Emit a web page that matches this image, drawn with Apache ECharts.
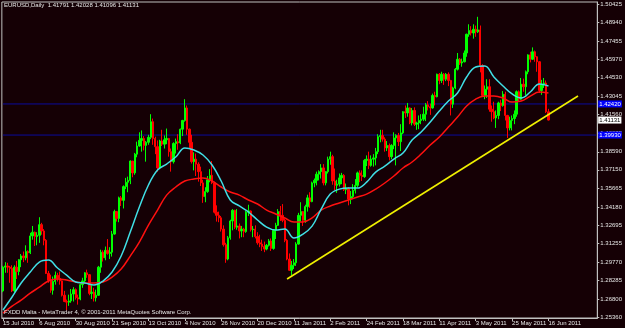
<!DOCTYPE html>
<html>
<head>
<meta charset="utf-8">
<title>EURUSD Daily</title>
<script src="https://cdn.jsdelivr.net/npm/echarts@6/dist/echarts.min.js"></script>
<style>
  html, body { margin: 0; padding: 0; background: #150005; }
  #chart { width: 625px; height: 328px; }
</style>
</head>
<body>
<div id="chart"></div>
<script>
// EURUSD daily bars, 15 Jul 2010 .. 16 Jun 2011 (one per trading day)
var opens = [
  1.2745,1.2935,1.2945,1.2935,1.2925,1.2745,1.2935,1.2900,1.2995,1.3025,
  1.3010,1.3060,1.3050,1.3185,1.3215,1.3180,1.3190,1.3275,1.3225,1.3150,
  1.2885,1.2830,1.2750,1.2820,1.2870,1.2845,1.2825,1.2710,1.2660,1.2655,
  1.2665,1.2720,1.2755,1.2690,1.2680,1.2795,1.2825,1.2890,1.2875,1.2725,
  1.2735,1.2690,1.2710,1.2935,1.3055,1.3010,1.3070,1.3045,1.3055,1.3200,
  1.3380,1.3325,1.3490,1.3470,1.3580,1.3615,1.3630,1.3785,1.3690,1.3840,
  1.3905,1.3950,1.3965,1.3910,1.3935,1.3975,1.4100,1.3965,1.3900,1.3730,
  1.3945,1.3920,1.3955,1.3965,1.3860,1.3780,1.3925,1.3940,1.3930,1.4040,
  1.4110,1.4210,1.4040,1.3935,1.3780,1.3800,1.3760,1.3700,1.3610,1.3500,
  1.3540,1.3635,1.3670,1.3610,1.3375,1.3350,1.3330,1.3240,1.3115,1.3000,
  1.3170,1.3305,1.3390,1.3255,1.3265,1.3225,1.3240,1.3220,1.3375,1.3385,
  1.3235,1.3240,1.3180,1.3130,1.3120,1.3100,1.3080,1.3110,1.3145,1.3085,
  1.3230,1.3270,1.3380,1.3350,1.3310,1.3150,1.3000,1.2910,1.2950,1.2970,
  1.3120,1.3350,1.3380,1.3310,1.3420,1.3490,1.3460,1.3610,1.3630,1.3680,
  1.3700,1.3730,1.3610,1.3700,1.3800,1.3820,1.3625,1.3590,1.3600,1.3650,
  1.3670,1.3555,1.3565,1.3480,1.3500,1.3550,1.3590,1.3690,1.3670,1.3660,
  1.3790,1.3800,1.3750,1.3800,1.3810,1.3860,1.3980,1.3990,1.3960,1.3890,
  1.3910,1.3820,1.3910,1.3970,1.3990,1.3940,1.4010,1.4180,1.4170,1.4210,
  1.4090,1.4190,1.4080,1.4090,1.4110,1.4120,1.4160,1.4235,1.4220,1.4210,
  1.4310,1.4300,1.4480,1.4430,1.4480,1.4440,1.4480,1.4430,1.4240,1.4370,
  1.4520,1.4600,1.4570,1.4580,1.4650,1.4800,1.4830,1.4810,1.4840,1.4820,
  1.4835,1.4550,1.4310,1.4360,1.4380,1.4200,1.4180,1.4130,1.4150,1.4250,
  1.4230,1.4320,1.4150,1.4050,1.4110,1.4125,1.4160,1.4340,1.4280,1.4400,
  1.4380,1.4500,1.4635,1.4600,1.4660,1.4620,1.4580,1.4350,1.4400,1.4410,
  1.41791
];
var highs = [
  1.2945,1.2975,1.2970,1.2945,1.2950,1.2950,1.2985,1.3000,1.3040,1.3060,
  1.3110,1.3070,1.3210,1.3265,1.3220,1.3215,1.3335,1.3290,1.3240,1.3160,
  1.2905,1.2875,1.2860,1.2900,1.2890,1.2900,1.2830,1.2745,1.2675,1.2715,
  1.2760,1.2775,1.2765,1.2715,1.2805,1.2850,1.2895,1.2915,1.2880,1.2790,
  1.2770,1.2755,1.2945,1.3075,1.3070,1.3100,1.3160,1.3095,1.3225,1.3395,
  1.3385,1.3500,1.3505,1.3590,1.3650,1.3660,1.3790,1.3785,1.3850,1.3940,
  1.4015,1.4030,1.3985,1.3945,1.3995,1.4160,1.4125,1.3980,1.3950,1.3955,
  1.4035,1.3990,1.4045,1.3970,1.3885,1.3935,1.3965,1.4000,1.4045,1.4115,
  1.4280,1.4230,1.4045,1.3995,1.3855,1.3845,1.3775,1.3740,1.3635,1.3575,
  1.3665,1.3720,1.3785,1.3620,1.3430,1.3380,1.3345,1.3270,1.3130,1.3185,
  1.3315,1.3400,1.3395,1.3400,1.3285,1.3265,1.3250,1.3385,1.3435,1.3390,
  1.3265,1.3270,1.3215,1.3195,1.3155,1.3140,1.3120,1.3160,1.3165,1.3240,
  1.3290,1.3400,1.3425,1.3440,1.3325,1.3160,1.3045,1.2985,1.3000,1.3135,
  1.3370,1.3455,1.3385,1.3435,1.3515,1.3535,1.3620,1.3645,1.3700,1.3710,
  1.3760,1.3760,1.3705,1.3820,1.3860,1.3835,1.3725,1.3635,1.3685,1.3690,
  1.3680,1.3605,1.3575,1.3545,1.3600,1.3640,1.3700,1.3710,1.3710,1.3800,
  1.3830,1.3860,1.3830,1.3840,1.3890,1.4000,1.4035,1.4035,1.3975,1.3945,
  1.3925,1.3920,1.4015,1.4000,1.4010,1.4080,1.4185,1.4230,1.4250,1.4215,
  1.4210,1.4215,1.4100,1.4150,1.4160,1.4220,1.4250,1.4265,1.4245,1.4325,
  1.4340,1.4485,1.4490,1.4500,1.4490,1.4490,1.4495,1.4435,1.4380,1.4530,
  1.4650,1.4610,1.4605,1.4670,1.4805,1.4880,1.4865,1.4880,1.4870,1.4940,
  1.4870,1.4560,1.4390,1.4440,1.4440,1.4230,1.4260,1.4190,1.4260,1.4275,
  1.4345,1.4340,1.4155,1.4140,1.4150,1.4190,1.4350,1.4350,1.4450,1.4445,
  1.4510,1.4640,1.4660,1.4695,1.4670,1.4625,1.4585,1.4435,1.4450,1.4430,
  1.42028
];
var lows = [
  1.2735,1.2890,1.2890,1.2810,1.2735,1.2735,1.2840,1.2870,1.2935,1.2975,
  1.2990,1.2970,1.3040,1.3155,1.3105,1.3110,1.3130,1.3195,1.3110,1.2880,
  1.2810,1.2730,1.2715,1.2795,1.2820,1.2795,1.2700,1.2655,1.2590,1.2625,
  1.2650,1.2660,1.2675,1.2635,1.2670,1.2770,1.2810,1.2850,1.2710,1.2680,
  1.2660,1.2660,1.2705,1.2890,1.2980,1.2990,1.3035,1.3000,1.3020,1.3195,
  1.3300,1.3295,1.3425,1.3405,1.3560,1.3535,1.3600,1.3655,1.3675,1.3815,
  1.3900,1.3860,1.3870,1.3780,1.3915,1.3960,1.3915,1.3840,1.3700,1.3720,
  1.3905,1.3885,1.3920,1.3820,1.3700,1.3765,1.3845,1.3875,1.3920,1.3985,
  1.4100,1.3995,1.3890,1.3765,1.3710,1.3665,1.3620,1.3585,1.3450,1.3455,
  1.3530,1.3615,1.3600,1.3365,1.3300,1.3295,1.3220,1.3100,1.2970,1.2990,
  1.3155,1.3230,1.3240,1.3235,1.3165,1.3175,1.3175,1.3210,1.3345,1.3220,
  1.3175,1.3165,1.3115,1.3095,1.3065,1.3055,1.3070,1.3100,1.3065,1.3075,
  1.3160,1.3265,1.3305,1.3295,1.3135,1.2990,1.2905,1.2870,1.2920,1.2945,
  1.3115,1.3300,1.3265,1.3290,1.3380,1.3410,1.3455,1.3575,1.3590,1.3630,
  1.3645,1.3590,1.3590,1.3685,1.3755,1.3595,1.3550,1.3530,1.3580,1.3600,
  1.3545,1.3520,1.3430,1.3440,1.3480,1.3525,1.3575,1.3615,1.3625,1.3650,
  1.3745,1.3720,1.3740,1.3740,1.3750,1.3840,1.3935,1.3940,1.3860,1.3865,
  1.3790,1.3800,1.3880,1.3750,1.3905,1.3865,1.4000,1.4130,1.4140,1.4080,
  1.4070,1.4065,1.4035,1.4040,1.4080,1.4105,1.4105,1.4190,1.4155,1.4205,
  1.4230,1.4295,1.4400,1.4410,1.4395,1.4425,1.4385,1.4150,1.4210,1.4360,
  1.4510,1.4555,1.4540,1.4575,1.4620,1.4780,1.4790,1.4765,1.4780,1.4810,
  1.4495,1.4300,1.4280,1.4290,1.4180,1.4100,1.4120,1.4050,1.4120,1.4185,
  1.4220,1.4110,1.3970,1.4030,1.4030,1.4080,1.4140,1.4260,1.4275,1.4340,
  1.4310,1.4480,1.4575,1.4595,1.4580,1.4500,1.4330,1.4315,1.4370,1.4170,
  1.41096
];
var closes = [
  1.2935,1.2945,1.2935,1.2925,1.2745,1.2935,1.2900,1.2995,1.3025,1.3010,
  1.3060,1.3050,1.3185,1.3215,1.3180,1.3190,1.3275,1.3225,1.3150,1.2885,
  1.2830,1.2750,1.2820,1.2870,1.2845,1.2825,1.2710,1.2660,1.2655,1.2665,
  1.2720,1.2755,1.2690,1.2680,1.2795,1.2825,1.2890,1.2875,1.2725,1.2735,
  1.2690,1.2710,1.2935,1.3055,1.3010,1.3070,1.3045,1.3055,1.3200,1.3380,
  1.3325,1.3490,1.3470,1.3580,1.3615,1.3630,1.3785,1.3690,1.3840,1.3905,
  1.3950,1.3965,1.3910,1.3935,1.3975,1.4100,1.3965,1.3900,1.3730,1.3945,
  1.3920,1.3955,1.3965,1.3860,1.3780,1.3925,1.3940,1.3930,1.4040,1.4110,
  1.4210,1.4040,1.3935,1.3780,1.3800,1.3760,1.3700,1.3610,1.3500,1.3540,
  1.3635,1.3670,1.3610,1.3375,1.3350,1.3330,1.3240,1.3115,1.3000,1.3170,
  1.3305,1.3390,1.3255,1.3265,1.3225,1.3240,1.3220,1.3375,1.3385,1.3235,
  1.3240,1.3180,1.3130,1.3120,1.3100,1.3080,1.3110,1.3145,1.3085,1.3230,
  1.3270,1.3380,1.3350,1.3310,1.3150,1.3000,1.2910,1.2950,1.2970,1.3120,
  1.3350,1.3380,1.3310,1.3420,1.3490,1.3460,1.3610,1.3630,1.3680,1.3700,
  1.3730,1.3610,1.3700,1.3800,1.3820,1.3625,1.3590,1.3600,1.3650,1.3670,
  1.3555,1.3565,1.3480,1.3500,1.3550,1.3590,1.3690,1.3670,1.3660,1.3790,
  1.3800,1.3750,1.3800,1.3810,1.3860,1.3980,1.3990,1.3960,1.3890,1.3910,
  1.3820,1.3910,1.3970,1.3990,1.3940,1.4010,1.4180,1.4170,1.4210,1.4090,
  1.4190,1.4080,1.4090,1.4110,1.4120,1.4160,1.4235,1.4220,1.4210,1.4310,
  1.4300,1.4480,1.4430,1.4480,1.4440,1.4480,1.4430,1.4240,1.4370,1.4520,
  1.4600,1.4570,1.4580,1.4650,1.4800,1.4830,1.4810,1.4840,1.4820,1.4835,
  1.4550,1.4310,1.4360,1.4380,1.4200,1.4180,1.4130,1.4150,1.4250,1.4230,
  1.4320,1.4150,1.4050,1.4110,1.4125,1.4160,1.4340,1.4280,1.4400,1.4380,
  1.4500,1.4635,1.4600,1.4660,1.4620,1.4580,1.4350,1.4400,1.4410,1.4180,
  1.41131
];

// moving averages, one value every maStep bars
var maStep = 4;
var fastMa = [
  1.2592,1.2696,1.2808,1.2896,1.2976,1.2992,1.2928,1.2872,1.2816,1.2808,
  1.2792,1.2824,1.2896,1.3024,1.3216,1.3416,1.3593,1.3713,1.3761,1.3817,
  1.3889,1.3873,1.3833,1.3753,1.3625,1.3473,1.3425,1.3377,1.3313,1.3256,
  1.3232,1.3240,1.3168,1.3200,1.3264,1.3400,1.3520,1.3560,1.3568,1.3568,
  1.3616,1.3696,1.3744,1.3801,1.3849,1.3953,1.4017,1.4097,1.4185,1.4265,
  1.4330,1.4458,1.4538,1.4546,1.4458,1.4386,1.4322,1.4290,1.4338,1.4402,
  1.4386
];
var slowMa = [
  1.2567,1.2623,1.2671,1.2727,1.2775,1.2824,1.2840,1.2832,1.2816,1.2808,
  1.2808,1.2816,1.2856,1.2920,1.3024,1.3136,1.3272,1.3392,1.3512,1.3577,
  1.3625,1.3641,1.3649,1.3625,1.3577,1.3537,1.3512,1.3473,1.3441,1.3392,
  1.3361,1.3329,1.3297,1.3297,1.3329,1.3392,1.3425,1.3449,1.3473,1.3497,
  1.3520,1.3560,1.3609,1.3665,1.3729,1.3777,1.3841,1.3913,1.3977,1.4057,
  1.4137,1.4225,1.4281,1.4305,1.4305,1.4290,1.4257,1.4265,1.4305,1.4338,
  1.4330
];

// hand drawn objects: trend line (bar index, price) and horizontal levels
var trendLine = [[125, 1.2840], [253, 1.4306]];
var levels = [1.4242, 1.3993];
var lastPrice = 1.41131;

var dateLabels = ['15 Jul 2010','6 Aug 2010','30 Aug 2010','21 Sep 2010','13 Oct 2010',
  '4 Nov 2010','26 Nov 2010','20 Dec 2010','11 Jan 2011','2 Feb 2011','24 Feb 2011',
  '18 Mar 2011','11 Apr 2011','3 May 2011','25 May 2011','16 Jun 2011'];
var labelEvery = 16;
var priceTicks = [1.50425,1.48940,1.47455,1.45970,1.44530,1.43045,1.41560,1.40075,1.38590,
  1.37150,1.35665,1.34180,1.32695,1.31255,1.29770,1.28285,1.26800,1.25360];

var slots = 262; // bars plus empty space on the right
var slotNames = [];
for (var s = 0; s < slots; s++) slotNames.push(String(s));

var candles = closes.map(function (c, i) { return [opens[i], c, lows[i], highs[i]]; });
function maPoints(arr) {
  return arr.map(function (v, k) { return [k * maStep, v]; });
}
function isLabelSlot(index) {
  return index % labelEvery === 0 && index / labelEvery < dateLabels.length;
}

var txt = '#e6e6e6';
var font = 'Liberation Sans';
var frame = '#c0c0c0';

// a horizontal line across the whole chart with its price boxed on the axis
function levelSeries(value, lineColor, boxColor, textColor) {
  return {
    type: 'line',
    data: [[0, value], [slots - 1, value]],
    symbol: 'none',
    silent: true,
    z: 3,
    lineStyle: { color: lineColor, width: 1 },
    endLabel: {
      show: true, formatter: value.toFixed(5), color: textColor, backgroundColor: boxColor,
      fontSize: 6, fontFamily: font, padding: [1, 1, 0, 1], distance: 2
    }
  };
}

var chart = echarts.init(document.getElementById('chart'), null, { renderer: 'canvas' });
chart.setOption({
  backgroundColor: '#150005',
  animation: false,
  title: [
    { text: 'EURUSD,Daily  1.41791 1.42028 1.41096 1.41131', left: 4, top: 2, padding: 0,
      textStyle: { color: txt, fontSize: 6, fontWeight: 'normal', fontFamily: font } },
    { text: 'FXDD Malta - MetaTrader 4, \u00a9 2001-2011 MetaQuotes Software Corp.', left: 4, top: 309, padding: 0,
      textStyle: { color: txt, fontSize: 6, fontWeight: 'normal', fontFamily: font } }
  ],
  grid: { left: 1, right: 22, top: 2, bottom: 10, show: true, borderColor: frame, borderWidth: 1,
    backgroundColor: 'transparent' },
  xAxis: {
    type: 'category',
    data: slotNames,
    boundaryGap: true,
    axisLine: { show: true, lineStyle: { color: frame } },
    axisTick: { show: true, alignWithLabel: true, interval: isLabelSlot, length: 3,
      lineStyle: { color: frame } },
    axisLabel: { interval: isLabelSlot, align: 'left', margin: 2, color: txt, fontSize: 6,
      fontFamily: font, hideOverlap: false,
      formatter: function (v, i) { return dateLabels[i / labelEvery]; } },
    splitLine: { show: false }
  },
  yAxis: {
    type: 'value',
    position: 'right',
    min: 1.25279,
    max: 1.50585,
    splitLine: { show: false },
    axisLine: { show: true, lineStyle: { color: frame } },
    axisTick: { show: true, customValues: priceTicks, length: 2, lineStyle: { color: frame } },
    axisLabel: { customValues: priceTicks, margin: 3, color: txt, fontSize: 6, fontFamily: font,
      formatter: function (v) { return v.toFixed(5); } }
  },
  series: [
    levelSeries(levels[0], '#0a0a9c', '#0000ff', '#ffffff'),
    levelSeries(levels[1], '#0a0a9c', '#0000ff', '#ffffff'),
    levelSeries(lastPrice, 'rgba(0,0,0,0)', '#ffffff', '#000000'),
    {
      type: 'candlestick',
      data: candles,
      barWidth: 1.8,
      z: 4,
      itemStyle: { color: '#00ff00', color0: '#ff0000', borderColor: '#00ff00',
        borderColor0: '#ff0000', borderColorDoji: '#00ff00', borderWidth: 1 }
    },
    {
      type: 'line', data: maPoints(slowMa), symbol: 'none', smooth: 0.4, z: 5,
      lineStyle: { color: '#ff1010', width: 1.5 }
    },
    {
      type: 'line', data: maPoints(fastMa), symbol: 'none', smooth: 0.4, z: 5,
      lineStyle: { color: '#40dfe6', width: 1.5 }
    },
    {
      type: 'line', data: trendLine, symbol: 'none', z: 6,
      lineStyle: { color: '#f0f000', width: 1.6 }
    }
  ]
});
</script>
</body>
</html>
